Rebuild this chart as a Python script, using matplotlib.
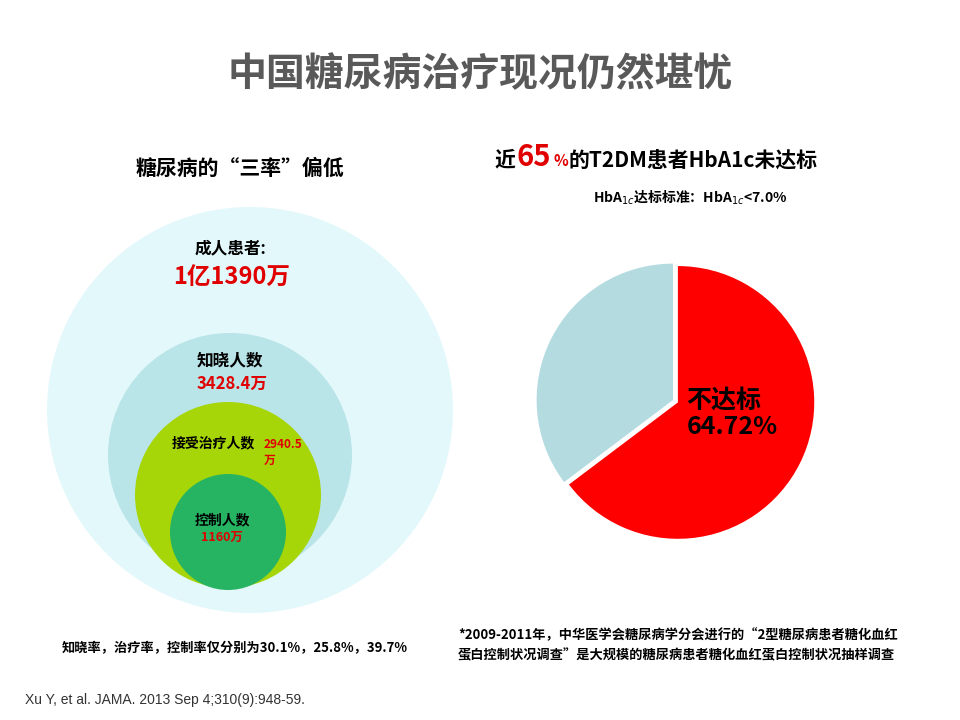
import matplotlib
matplotlib.use('Agg')
import matplotlib.pyplot as plt
from matplotlib.patches import Circle

plt.rcParams['font.family'] = ['Noto Sans CJK SC', 'DejaVu Sans']

# --- 데이터 ---
pie_labels = ['不达标', '达标']
pie_values = [64.72, 35.28]
pie_colors = ['#ff0000', '#b3dbe0']

circle_titles = ['成人患者:', '知晓人数', '接受治疗人数', '控制人数']
circle_values = ['1亿1390万', '3428.4万', '2940.5\n万', '1160万']
circle_colors = ['#e3f8fb', '#b9e4e8', '#a6d607', '#26b463']


def create_summary_figure(save_path):
    """糖尿病治疗现况 그림 생성"""
    fig = plt.figure(figsize=(9.6, 7.2), dpi=100)
    ax = fig.add_axes([0, 0, 1, 1])
    ax.set_xlim(0, 960)
    ax.set_ylim(720, 0)
    ax.axis('off')

    ax.text(480, 75, '中国糖尿病治疗现况仍然堪忧', fontsize=28, fontweight='bold',
            color='#595959', ha='center', va='center')

    # 중첩 원
    circles = [(250, 410, 203), (230, 455, 122), (228, 495, 93), (228, 532, 58)]
    for (cx, cy, r), c in zip(circles, circle_colors):
        ax.add_patch(Circle((cx, cy), r, fc=c, ec='none'))

    ax.text(240, 168, '糖尿病的“三率”偏低', fontsize=15, fontweight='bold', ha='center', va='center')
    ax.text(230, 248, circle_titles[0], fontsize=12, fontweight='bold', ha='center', va='center')
    ax.text(232, 278, circle_values[0], fontsize=17, fontweight='bold', color='#e00000',
            ha='center', va='center')
    ax.text(230, 360, circle_titles[1], fontsize=12, fontweight='bold', ha='center', va='center')
    ax.text(232, 384, circle_values[1], fontsize=12, fontweight='bold', color='#e00000',
            ha='center', va='center')
    ax.text(213, 443, circle_titles[2], fontsize=10, fontweight='bold', ha='center', va='center')
    ax.text(264, 452, circle_values[2], fontsize=8.5, fontweight='bold', color='#e00000',
            ha='left', va='center', linespacing=1.3)
    ax.text(222, 520, circle_titles[3], fontsize=10, fontweight='bold', ha='center', va='center')
    ax.text(222, 537, circle_values[3], fontsize=9, fontweight='bold', color='#e00000',
            ha='center', va='center')

    # 오른쪽 제목
    ax.text(495, 160, '近', fontsize=15, fontweight='bold', ha='left', va='center')
    ax.text(517, 157, '65', fontsize=21, fontweight='bold', color='#e00000', ha='left', va='center')
    ax.text(553, 161, '%', fontsize=11, fontweight='bold', color='#e00000', ha='left', va='center')
    ax.text(568, 160, '的T2DM患者HbA1c未达标', fontsize=15, fontweight='bold', ha='left', va='center')
    ax.text(690, 198, r'HbA$_{1c}$达标标准：HbA$_{1c}$<7.0%', fontsize=10, fontweight='bold',
            ha='center', va='center')

    # 파이 차트
    pax = fig.add_axes([(673 - 150) / 960, (720 - 400 - 150) / 720, 300 / 960, 300 / 720])
    wedges, texts = pax.pie(pie_values, colors=pie_colors, startangle=90, counterclock=False,
                            explode=[0.04, 0])
    pax.set_xlim(-1.1, 1.1)
    pax.set_ylim(-1.1, 1.1)
    pax.set_aspect('equal')
    pax.text(0.1, -0.1, f'{pie_labels[0]}\n{pie_values[0]:.2f}%', fontsize=18, fontweight='bold',
             ha='left', va='center', linespacing=1.1)

    # 각주
    ax.text(235, 648, '知晓率，治疗率，控制率仅分别为30.1%，25.8%，39.7%', fontsize=9.5,
            fontweight='bold', ha='center', va='center')
    ax.text(458, 645, '*2009-2011年，中华医学会糖尿病学分会进行的“2型糖尿病患者糖化血红\n'
            '蛋白控制状况调查”是大规模的糖尿病患者糖化血红蛋白控制状况抽样调查',
            fontsize=9.5, fontweight='bold', ha='left', va='center', linespacing=1.6)
    ax.text(25, 700, 'Xu Y, et al. JAMA. 2013 Sep 4;310(9):948-59.', fontsize=10,
            color='#333333', ha='left', va='center', family='Liberation Sans')

    fig.savefig(save_path, dpi=100)
    plt.close(fig)


create_summary_figure('out.png')
